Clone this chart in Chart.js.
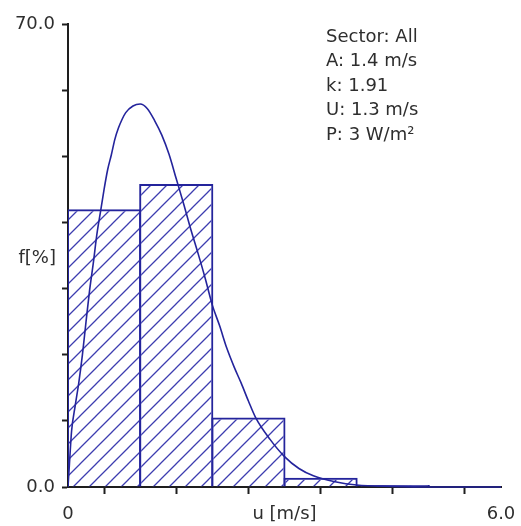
<!DOCTYPE html>
<html>
<head>
<meta charset="utf-8">
<script src="https://cdn.jsdelivr.net/npm/chart.js@4"></script>
<style>
  html, body { margin: 0; padding: 0; background: #fff; }
  #wrap { width: 521px; height: 526px; }
</style>
</head>
<body>
<div id="wrap"><canvas id="myChart" width="521" height="526"></canvas></div>
<script>
// histogram bins (m/s) and frequency in each bin (%)
const binCenters = [0.5, 1.5, 2.5, 3.5, 4.5];
const binFreq = [42.0, 45.8, 10.5, 1.4, 0.3];

// fitted distribution curve (u in m/s, f in %)
const curveU = [0, 0.02, 0.05, 0.10, 0.15, 0.20, 0.25, 0.30, 0.35, 0.40, 0.45, 0.50, 0.55, 0.60, 0.65, 0.70,
  0.75, 0.80, 0.90, 1.00, 1.10, 1.20, 1.30, 1.40, 1.50, 1.60, 1.70, 1.80, 1.90, 2.00, 2.10, 2.20, 2.30,
  2.40, 2.50, 2.60, 2.80, 3.00, 3.20, 3.40, 3.70, 4.00, 4.50, 5.00, 6.00, 6.30];
const curveF = [0, 3.5, 8.5, 12.3, 15.8, 20.0, 25.0, 29.8, 33.8, 38.2, 41.6, 45.0, 48.0, 50.2, 52.6, 54.3,
  55.6, 56.6, 57.6, 57.9, 57.2, 55.4, 53.2, 50.3, 46.6, 42.9, 39.0, 35.4, 31.6, 27.5, 24.4, 21.0, 18.2,
  15.7, 13.0, 10.5, 7.2, 4.6, 2.8, 1.7, 0.8, 0.3, 0.1, 0, 0, 0];

// tick labels
const yTickLabels = { 0: '0.0', 70: '70.0' };
const xTickLabels = { 0: '0', 3: 'u [m/s]', 6: '6.0' };

const infoLines = ['Sector: All', 'A: 1.4 m/s', 'k: 1.91', 'U: 1.3 m/s', 'P: 3 W/m²'];
const yTitle = 'f[%]';

const FONT = '"DejaVu Sans", Verdana, sans-serif';
const TEXT = '#2e2e2e';
const NAVY = '#24249c';

// diagonal hatch fill for the bars
function hatch() {
  const c = document.createElement('canvas');
  c.width = 16; c.height = 16;
  const g = c.getContext('2d');
  g.strokeStyle = '#3d3db0';
  g.lineWidth = 1.3;
  g.beginPath();
  g.moveTo(-2, 18); g.lineTo(18, -2);
  g.moveTo(-2, 2); g.lineTo(2, -2);
  g.moveTo(14, 18); g.lineTo(18, 14);
  g.stroke();
  return g.createPattern(c, 'repeat');
}

const labelsPlugin = {
  id: 'labels',
  afterDraw(chart) {
    const ctx = chart.ctx;
    ctx.save();
    ctx.fillStyle = TEXT;
    ctx.font = '18px ' + FONT;
    ctx.textBaseline = 'middle';
    ctx.textAlign = 'right';
    ctx.fillText(yTitle, 56, 258);
    ctx.textAlign = 'left';
    infoLines.forEach((t, i) => ctx.fillText(t, 326, 37 + i * 24.5));
    ctx.restore();
  }
};

const ctx = document.getElementById('myChart').getContext('2d');
const myChart = new Chart(ctx, {
    type: 'bar',
    data: {
        datasets: [{
            type: 'line',
            data: curveU.map((u, i) => ({ x: u, y: curveF[i] })),
            borderColor: NAVY,
            borderWidth: 1.6,
            pointRadius: 0,
            cubicInterpolationMode: 'monotone',
            clip: { left: 0, top: 0, right: 25, bottom: 2 }
        },
        {
            data: binCenters.map((u, i) => ({ x: u, y: binFreq[i] })),
            backgroundColor: hatch(),
            borderColor: NAVY,
            borderWidth: 2,
            // slightly wider than the bin so neighbouring edges overlap into one line
            barPercentage: 1.028,
            categoryPercentage: 1,
            grouped: false,
            inflateAmount: 0
        }]
    },
    options: {
        responsive: false,
        animation: false,
        layout: { padding: { left: 0, top: 24, right: 20, bottom: 0 } },
        plugins: { legend: { display: false }, tooltip: { enabled: false } },
        scales: {
            x: {
                type: 'linear',
                min: 0, max: 6,
                offset: false,
                afterFit: s => { s.height = 39; s.paddingLeft = 0; s.paddingRight = 0; },
                border: { color: '#1e1e1e', width: 2 },
                grid: { drawOnChartArea: false, drawTicks: true, tickLength: 7, tickColor: '#1e1e1e', tickWidth: 2 },
                ticks: {
                    stepSize: 1, autoSkip: false, maxRotation: 0, padding: 10,
                    color: TEXT, font: { family: FONT, size: 18 },
                    callback: v => xTickLabels[v] || ''
                }
            },
            y: {
                min: 0, max: 70,
                afterFit: s => { s.width = 68; s.paddingTop = 0; s.paddingBottom = 0; },
                border: { color: '#1e1e1e', width: 2 },
                grid: { drawOnChartArea: false, drawTicks: true, tickLength: 6, tickColor: '#1e1e1e', tickWidth: 2 },
                ticks: {
                    stepSize: 10, autoSkip: false, padding: 7,
                    color: TEXT, font: { family: FONT, size: 18 },
                    callback: v => yTickLabels[v] || ''
                }
            }
        }
    },
    plugins: [labelsPlugin]
});
</script>
</body>
</html>
